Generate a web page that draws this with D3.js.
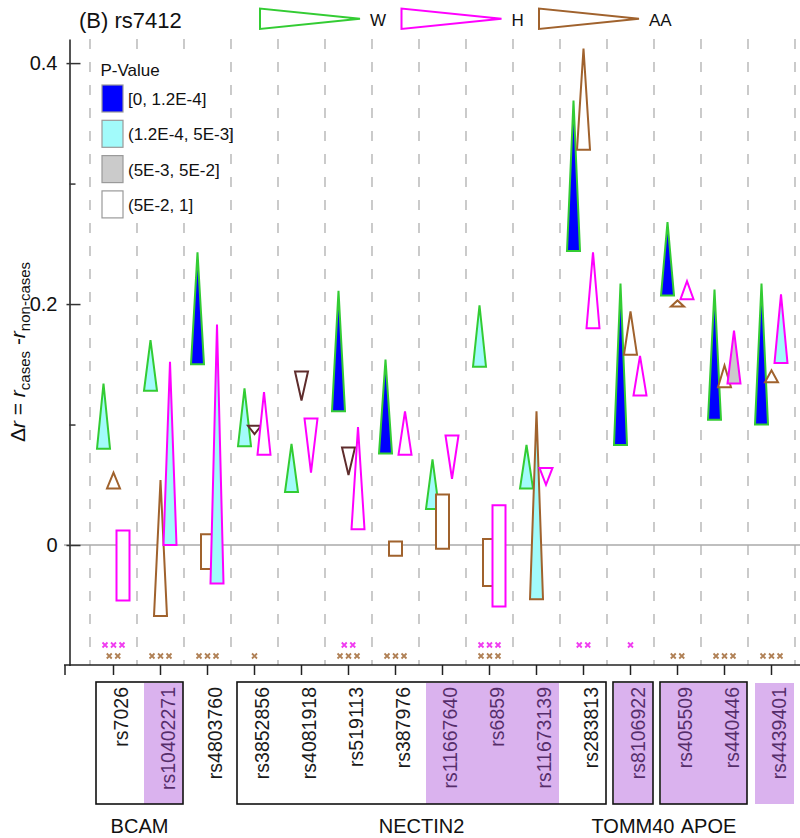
<!DOCTYPE html>
<html><head><meta charset="utf-8">
<script src="https://cdn.jsdelivr.net/npm/d3@7"></script>
<style>body{margin:0;background:#fff}</style>
</head><body>
<svg id="c" width="800" height="838" xmlns="http://www.w3.org/2000/svg"></svg>
<script>
// ---------- data ----------
const snps = ["rs7026","rs10402271","rs4803760","rs3852856","rs4081918","rs519113","rs387976",
  "rs11667640","rs6859","rs11673139","rs283813","rs8106922","rs405509","rs440446","rs4439401"];
// W (white) : wide end (base) and narrow end (tip) of each glyph, in delta r
const wBase = [0.080,0.128,0.150,0.082,0.044,0.111,0.076,0.030,0.148,0.047,0.244,0.083,0.207,0.104,0.100];
const wTip  = [0.134,0.170,0.243,0.130,0.084,0.211,0.154,0.071,0.199,0.083,0.369,0.217,0.268,0.212,0.217];
const wShape = ["tri","tri","tri","tri","tri","tri","tri","tri","tri","tri","tri","tri","tri","tri","tri"];
const wP = [1,1,0,1,1,0,0,1,1,1,0,0,0,0,0];
// H (hispanic)
const hBase = [-0.046,0.000,-0.032,0.075,0.105,0.013,0.075,0.091,-0.051,0.064,0.180,0.124,0.204,0.134,0.151];
const hTip  = [0.012,0.152,0.183,0.127,0.060,0.098,0.111,0.055,0.033,0.050,0.243,0.157,0.219,0.178,0.208];
const hShape = ["rect","tri","tri","tri","tri","tri","tri","tri","rect","tri","tri","tri","tri","tri","tri"];
const hP = [3,1,1,3,3,3,3,3,3,3,3,3,3,2,1];
// AA (african american)
const aBase = [0.047,-0.059,-0.020,0.099,0.144,0.081,-0.009,-0.003,-0.034,-0.045,0.328,0.158,0.198,0.131,0.135];
const aTip  = [0.060,0.054,0.009,0.092,0.120,0.058,0.003,0.042,0.005,0.111,0.412,0.194,0.203,0.149,0.145];
const aShape = ["tri","tri","rect","tri","tri","tri","rect","rect","rect","tri","tri","tri","tri","tri","tri"];
const aP = [3,3,3,3,3,3,3,3,3,1,3,3,3,3,3];
// significance marks (count of x symbols)
const hMarks = [3,0,0,0,0,2,0,0,3,0,2,1,0,0,0];
const aMarks = [2,3,3,1,0,3,3,0,3,0,0,0,2,3,3];
// highlighted SNPs and gene groups
const highlighted = [0,1,0,0,0,0,0,1,1,1,0,1,1,1,1];
const genes = [
  {name:"BCAM", first:0, last:1},
  {name:"NECTIN2", first:3, last:10},
  {name:"TOMM40", first:11, last:11},
  {name:"APOE", first:12, last:13}
];
const pLabels = ["[0, 1.2E-4]","(1.2E-4, 5E-3]","(5E-3, 5E-2]","(5E-2, 1]"];
const yTicksMajor = [0, 0.2, 0.4];
const yTicksMinor = [0.1, 0.3];

// ---------- styles ----------
const font = "'Liberation Sans', Arial, Helvetica, sans-serif";
const pFill = ["#0000ff","#a2fbfb","#cbcbcb","#ffffff"];
const popColor = {W:"#33cc33", H:"#ff00ff", AA:"#a0622d"};
const aaDown = "#5e2c2c";

const svg = d3.select("#c");
const x = d3.scaleBand().domain(snps).range([90, 795]).padding(0);
const y = d3.scaleLinear().domain([-0.1, 0.42]).range([665.5, 39]);
const cx = s => x(s) + x.bandwidth()/2;
const popOffset = d3.scaleOrdinal().domain(["W","AA","H"]).range([-10, 0, 9.5]);
const halfW = 6.5;

// dashed separators
const seps = d3.range(snps.length + 1).map(i => 90 + i * x.bandwidth());
svg.append("g").selectAll("line").data(seps).join("line")
  .attr("x1", d => d).attr("x2", d => d).attr("y1", 39).attr("y2", 665)
  .attr("stroke", "#b5b5b5").attr("stroke-width", 1.4).attr("stroke-dasharray", "10,13");

// zero line
svg.append("line").attr("x1", 64).attr("x2", 800).attr("y1", y(0)).attr("y2", y(0))
  .attr("stroke", "#aaaaaa").attr("stroke-width", 1.5);

// y axis
const yAx = svg.append("g").attr("transform", "translate(69.5,0)")
  .call(d3.axisLeft(y).tickValues(yTicksMajor).tickSizeInner(-11).tickSizeOuter(0)
    .tickPadding(12).tickFormat(d => d === 0 ? "0" : d3.format(".1f")(d)));
yAx.select(".domain").attr("stroke", "#555").attr("stroke-width", 2);
yAx.selectAll(".tick line").attr("stroke", "#333").attr("stroke-width", 1.5).attr("x1", -3);
yAx.selectAll(".tick text").attr("font-family", font).attr("font-size", 20).attr("fill", "#111");
const yMin = svg.append("g").attr("transform", "translate(69.5,0)")
  .call(d3.axisLeft(y).tickValues(yTicksMinor).tickSizeInner(-6).tickSizeOuter(0).tickFormat(""));
yMin.select(".domain").remove();
yMin.selectAll(".tick line").attr("stroke", "#333").attr("stroke-width", 1.5);

// y label
const yl = svg.append("text").attr("transform", "translate(25,352) rotate(-90)")
  .attr("text-anchor", "middle").attr("font-family", font).attr("font-size", 21).attr("fill", "#111");
yl.append("tspan").text("\u0394");
yl.append("tspan").attr("font-style", "italic").text("r");
yl.append("tspan").text(" = ");
yl.append("tspan").attr("font-style", "italic").text("r");
yl.append("tspan").attr("font-size", 15).attr("dy", 5).text("cases");
yl.append("tspan").attr("dy", -5).text(" -");
yl.append("tspan").attr("font-style", "italic").text("r");
yl.append("tspan").attr("font-size", 15).attr("dy", 5).text("non-cases");

// x axis
svg.append("line").attr("x1", 64).attr("x2", 800).attr("y1", 665).attr("y2", 665)
  .attr("stroke", "#222").attr("stroke-width", 1.5);
const xAx = svg.append("g").attr("transform", "translate(0,665)")
  .call(d3.axisBottom(x).tickSize(10).tickFormat(""));
xAx.select(".domain").remove();
xAx.selectAll(".tick line").attr("stroke", "#222").attr("stroke-width", 1.5);
svg.append("line").attr("x1", 65).attr("x2", 65).attr("y1", 665).attr("y2", 675)
  .attr("stroke", "#222").attr("stroke-width", 1.5);

// glyphs
function glyphs(pop, base, tip, shape, pv) {
  const recs = snps.map((s, i) => ({s, i, base: base[i], tip: tip[i], shape: shape[i], p: pv[i]}));
  svg.append("g").selectAll("path").data(recs).join("path")
    .attr("d", d => {
      const xc = cx(d.s) + popOffset(pop);
      const yb = y(d.base), yt = y(d.tip);
      if (d.shape === "rect") {
        return `M${xc-halfW},${yb}L${xc+halfW},${yb}L${xc+halfW},${yt}L${xc-halfW},${yt}Z`;
      }
      return `M${xc-halfW},${yb}L${xc+halfW},${yb}L${xc},${yt}Z`;
    })
    .attr("fill", d => pFill[d.p])
    .attr("stroke", d => (pop === "AA" && d.shape === "tri" && d.tip < d.base) ? aaDown : popColor[pop])
    .attr("stroke-width", 2).attr("stroke-linejoin", "miter");
}
glyphs("W", wBase, wTip, wShape, wP);
glyphs("AA", aBase, aTip, aShape, aP);
glyphs("H", hBase, hTip, hShape, hP);

// significance marks
function marks(counts, yPos, color) {
  const pts = [];
  counts.forEach((n, i) => { for (let k = 0; k < n; k++) pts.push({x: cx(snps[i]) + (k - (n-1)/2) * 8.5}); });
  svg.append("g").selectAll("path").data(pts).join("path")
    .attr("d", d => `M${d.x-2.5},${yPos-2.5}L${d.x+2.5},${yPos+2.5}M${d.x-2.5},${yPos+2.5}L${d.x+2.5},${yPos-2.5}`)
    .attr("stroke", color).attr("stroke-width", 1.8);
}
marks(hMarks, 645, "#f03cf0");
marks(aMarks, 656, "#b08055");

// SNP labels
svg.append("g").selectAll("text").data(snps).join("text")
  .attr("transform", d => `translate(${cx(d) + 14.5},687) rotate(-90)`)
  .attr("text-anchor", "end").attr("font-family", font).attr("font-size", 19.5).attr("fill", "#1a1a1a")
  .text(d => d);

// highlight shading (overlay)
const runs = [];
highlighted.forEach((h, i) => {
  if (!h) return;
  const g = genes.find(g => i >= g.first && i <= g.last);
  const last = runs[runs.length - 1];
  if (last && last.last === i - 1 && last.gene === g) { last.last = i; }
  else runs.push({first: i, last: i, gene: g});
});
svg.append("g").selectAll("rect").data(runs).join("rect")
  .attr("x", d => x(snps[d.first]) + 7)
  .attr("width", d => x(snps[d.last]) + x.bandwidth() - 1 - (x(snps[d.first]) + 7))
  .attr("y", 683).attr("height", 121)
  .attr("fill", "rgb(167,71,214)").attr("fill-opacity", 0.42);

// gene boxes
svg.append("g").selectAll("rect").data(genes).join("rect")
  .attr("x", d => x(snps[d.first]) + 6)
  .attr("width", d => x(snps[d.last]) + x.bandwidth() - 1 - (x(snps[d.first]) + 6))
  .attr("y", 682).attr("height", 122)
  .attr("fill", "none").attr("stroke", "#111").attr("stroke-width", 1.6);
svg.append("g").selectAll("text").data(genes).join("text")
  .attr("x", d => (x(snps[d.first]) + 6 + x(snps[d.last]) + x.bandwidth() - 1) / 2 + (d.name === "APOE" ? 5 : 0))
  .attr("y", 833).attr("text-anchor", "middle")
  .attr("font-family", font).attr("font-size", 20).attr("fill", "#111").text(d => d.name);

// title
svg.append("text").attr("x", 79).attr("y", 27.5).attr("font-family", font).attr("font-size", 22)
  .attr("fill", "#111").text("(B) rs7412");

// population legend
const popLeg = [{k:"W", x:260}, {k:"H", x:401.5}, {k:"AA", x:539}];
const pl = svg.append("g").selectAll("g").data(popLeg).join("g");
pl.append("path").attr("d", d => `M${d.x},8.5L${d.x},29L${d.x+100},18.7Z`)
  .attr("fill", "#fff").attr("stroke", d => popColor[d.k]).attr("stroke-width", 2);
pl.append("text").attr("x", d => d.x + 110).attr("y", 25.5).attr("font-family", font)
  .attr("font-size", 17).attr("fill", "#111").text(d => d.k);

// p-value legend
const lg = svg.append("g");
lg.append("rect").attr("x", 96).attr("y", 58).attr("width", 120).attr("height", 164).attr("fill", "#fff");
lg.append("text").attr("x", 100.5).attr("y", 76).attr("font-family", font).attr("font-size", 17)
  .attr("fill", "#111").text("P-Value");
const li = lg.selectAll("g.it").data(pLabels).join("g").attr("class", "it")
  .attr("transform", (d, i) => `translate(102,${85 + i * 35.3})`);
li.append("rect").attr("width", 21).attr("height", 27).attr("fill", (d, i) => pFill[i])
  .attr("stroke", "#9a9a9a").attr("stroke-width", 1.2);
li.append("text").attr("x", 26).attr("y", 20).attr("font-family", font).attr("font-size", 17)
  .attr("fill", "#111").text(d => d);
</script>
</body></html>
